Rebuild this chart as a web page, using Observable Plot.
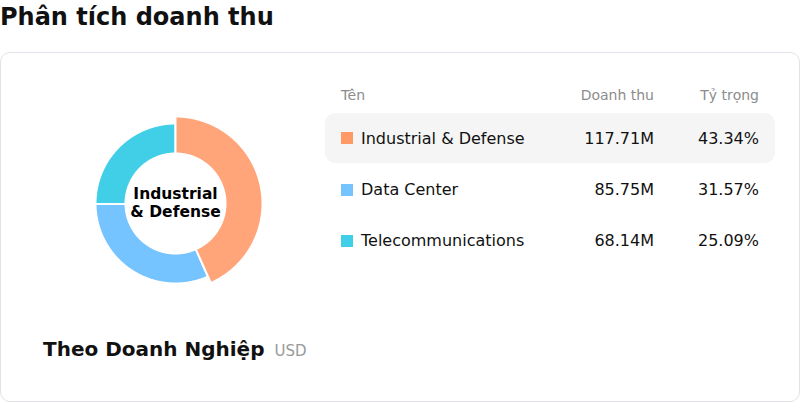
<!DOCTYPE html>
<html>
<head>
<meta charset="utf-8">
<script src="https://cdn.jsdelivr.net/npm/d3@7"></script>
<script src="https://cdn.jsdelivr.net/npm/@observablehq/plot@0.6"></script>
<style>
  html, body { margin: 0; padding: 0; }
  body { width: 800px; height: 402px; overflow: hidden; position: relative; background: #fff;
         font-family: "DejaVu Sans", sans-serif; color: #111; }
  #title { position: absolute; left: 0; top: 3px; font-size: 24px; font-weight: bold; white-space: nowrap; }
  #card { position: absolute; left: 0; top: 52px; width: 800px; height: 350px; box-sizing: border-box;
          border: 1px solid #e2e2ea; border-radius: 10px; }
  #donut { position: absolute; left: 75px; top: 103px; width: 200px; height: 200px; }
  #table { position: absolute; left: 325px; top: 87px; width: 450px; }
  .hdr { display: flex; align-items: flex-start; height: 26px; padding: 0 16px; font-size: 14px; color: #8c8c8c; }
  .hdr .c-name { display: block; }
  .row { display: flex; align-items: center; height: 51px; padding: 0 16px; font-size: 16px; color: #111;
         border-radius: 10px; box-sizing: border-box; }
  .row.active { background: #f5f5f5; height: 50px; margin-bottom: 1px; }
  .c-name { flex: 1; display: flex; align-items: center; white-space: nowrap; }
  .c-rev { width: 120px; text-align: right; }
  .c-share { width: 105px; text-align: right; }
  .sw { width: 12px; height: 12px; margin-right: 8px; flex: none; }
  #footer { position: absolute; left: 43px; top: 337px; display: flex; align-items: baseline; white-space: nowrap; }
  #footer .ft { font-size: 20px; font-weight: bold; }
  #footer .unit { font-size: 15px; color: #999; margin-left: 10px; }
</style>
</head>
<body>
<div id="title">Phân tích doanh thu</div>
<div id="card"></div>
<div id="donut"></div>
<div id="table"></div>
<div id="footer"><span class="ft">Theo Doanh Nghiệp</span><span class="unit">USD</span></div>
<script>
// ---- data ----
const names = ["Industrial & Defense", "Data Center", "Telecommunications"];
const revenue = [117.71, 85.75, 68.14];        // million USD
const shares = [43.34, 31.57, 25.09];          // %
const colors = ["#FF9966", "#75C4FF", "#40CFE6"];
const headers = ["Tên", "Doanh thu", "Tỷ trọng"];
const activeName = "Industrial & Defense";
const centerLabel = "Industrial\n& Defense";
const unitLabel = "USD";

// ---- donut ----
const rInner = 50, rOuter = 80, rActive = 87;
const rows = names.map((name, i) => ({ name, value: revenue[i], share: shares[i], color: colors[i] }));
const arcs = d3.pie().sort(null).value(d => d.value)(rows);

function arcPoints(a) {
  const name = a.data.name;
  const ro = name === activeName ? rActive : rOuter;
  const step = Math.PI / 360;
  const n = Math.max(2, Math.ceil((a.endAngle - a.startAngle) / step) + 1);
  const pts = [];
  for (let k = 0; k < n; k++) {
    const t = a.startAngle + (a.endAngle - a.startAngle) * k / (n - 1);
    pts.push({ name, x: ro * Math.sin(t), y: -ro * Math.cos(t) });
  }
  for (let k = n - 1; k >= 0; k--) {
    const t = a.startAngle + (a.endAngle - a.startAngle) * k / (n - 1);
    pts.push({ name, x: rInner * Math.sin(t), y: -rInner * Math.cos(t) });
  }
  pts.push(pts[0]);
  return pts;
}
const activePts = arcs.filter(a => a.data.name === activeName).flatMap(arcPoints);
const otherPts = arcs.filter(a => a.data.name !== activeName).flatMap(arcPoints);

const donut = Plot.plot({
  width: 200, height: 200, margin: 0,
  style: { background: "transparent", overflow: "visible", fontFamily: "DejaVu Sans, sans-serif" },
  x: { domain: [-100, 100], range: [0, 200], axis: null },
  y: { domain: [-100, 100], range: [0, 200], axis: null },
  color: { domain: names, range: colors },
  marks: [
    Plot.line(otherPts, { x: "x", y: "y", z: "name", fill: "name", stroke: "white", strokeWidth: 2, curve: "linear" }),
    Plot.line(activePts, { x: "x", y: "y", z: "name", fill: "name", fillOpacity: 0.88, stroke: "white", strokeWidth: 2, curve: "linear" }),
    Plot.text([centerLabel], { frameAnchor: "middle", text: d => d, fontSize: 15.5, fontWeight: "bold",
                               lineHeight: 1.17, fill: "#000", dy: -1.5 })
  ]
});
document.getElementById("donut").appendChild(donut);

// ---- table legend ----
const table = d3.select("#table");
const hdr = table.append("div").attr("class", "hdr");
hdr.append("div").attr("class", "c-name").text(headers[0]);
hdr.append("div").attr("class", "c-rev").text(headers[1]);
hdr.append("div").attr("class", "c-share").text(headers[2]);
rows.forEach(r => {
  const row = table.append("div").attr("class", "row" + (r.name === activeName ? " active" : ""));
  const nm = row.append("div").attr("class", "c-name");
  nm.append("div").attr("class", "sw").style("background", r.color);
  nm.append("span").text(r.name);
  row.append("div").attr("class", "c-rev").text(r.value.toFixed(2) + "M");
  row.append("div").attr("class", "c-share").text(r.share.toFixed(2) + "%");
});
document.querySelector("#footer .unit").textContent = unitLabel;
</script>
</body>
</html>
